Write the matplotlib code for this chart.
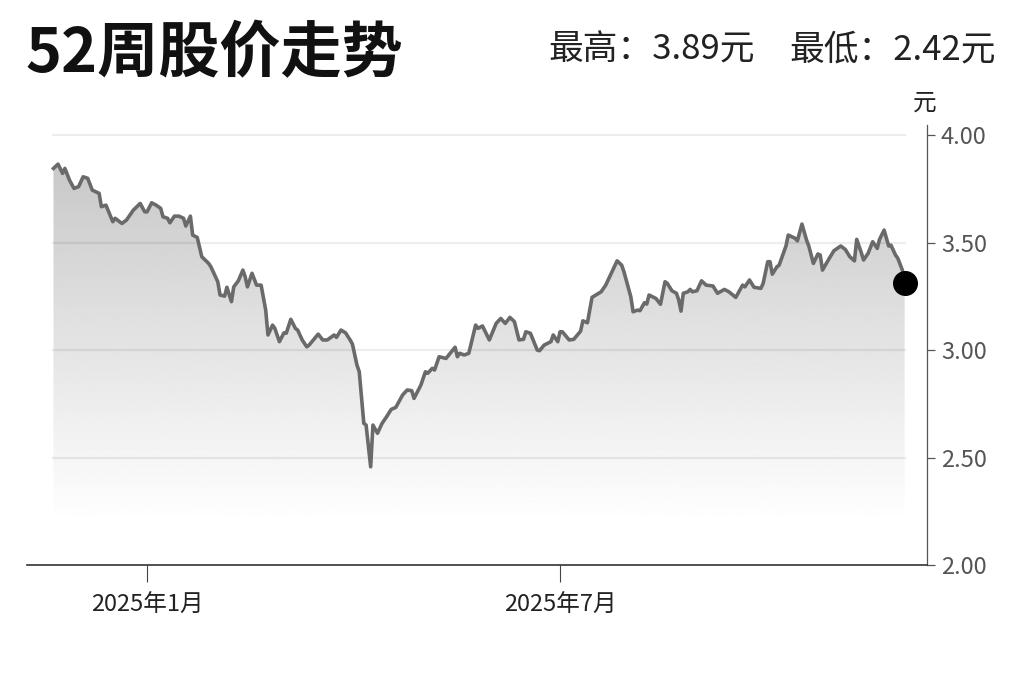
import numpy as np
import pandas as pd
import matplotlib
matplotlib.use("Agg")
import matplotlib.pyplot as plt
import matplotlib.dates as mdates
from matplotlib.patches import Polygon

plt.rcParams['font.family'] = ['Noto Sans CJK SC', 'DejaVu Sans']

# dias desde 2025-01-01 y precio de cierre
day_offset = [-41, -39, -37, -36, -34, -32, -30, -28, -26, -24, -21, -20, -18, -15, -14, -11, -9, -6, -3, -1,
              0, 2, 4, 6, 7, 9, 10, 12, 14, 16, 17, 19, 20, 22, 24, 27, 28, 31, 32, 34,
              35, 37, 38, 40, 42, 43, 44, 46, 48, 50, 52, 53, 55, 56, 58, 60, 61, 63, 65, 66,
              68, 70, 71, 75, 77, 79, 82, 83, 85, 87, 89, 90, 92, 93, 95, 96, 98, 99, 101, 103,
              105, 107, 109, 112, 114, 116, 117, 119, 120, 122, 123, 125, 126, 128, 131, 135, 136, 137, 139, 141,
              144, 145, 147, 150, 153, 155, 157, 159, 161, 163, 165, 166, 168, 171, 172, 174, 177, 178, 180, 181,
              182, 185, 187, 190, 191, 193, 195, 199, 201, 206, 208, 209, 212, 213, 215, 216, 218, 219, 220, 223,
              225, 227, 228, 230, 232, 233, 234, 235, 237, 238, 239, 241, 243, 245, 248, 250, 253, 255, 258, 261,
              262, 264, 266, 269, 270, 272, 273, 274, 276, 277, 280, 281, 284, 285, 287, 289, 290, 292, 294, 295,
              296, 299, 301, 304, 306, 308, 310, 311, 313, 314, 316, 318, 320, 321, 323, 325, 326, 328, 329, 331,
              332]
price = [3.845, 3.865, 3.822, 3.845, 3.791, 3.752, 3.760, 3.806, 3.799, 3.744, 3.729, 3.667, 3.674, 3.597, 3.613, 3.589, 3.605, 3.651, 3.682, 3.643,
         3.643, 3.685, 3.674, 3.659, 3.620, 3.613, 3.592, 3.623, 3.623, 3.613, 3.577, 3.623, 3.535, 3.524, 3.434, 3.403, 3.387, 3.318, 3.256, 3.251,
         3.292, 3.225, 3.294, 3.322, 3.372, 3.341, 3.294, 3.357, 3.302, 3.302, 3.186, 3.070, 3.116, 3.101, 3.039, 3.080, 3.078, 3.143, 3.101, 3.093,
         3.047, 3.015, 3.023, 3.074, 3.047, 3.047, 3.070, 3.059, 3.093, 3.080, 3.047, 3.028, 2.930, 2.899, 2.659, 2.651, 2.457, 2.651, 2.613, 2.659,
         2.690, 2.724, 2.733, 2.791, 2.814, 2.811, 2.775, 2.817, 2.837, 2.899, 2.892, 2.915, 2.907, 2.969, 2.961, 3.013, 2.969, 2.985, 2.977, 2.985,
         3.116, 3.101, 3.112, 3.047, 3.124, 3.147, 3.124, 3.152, 3.132, 3.047, 3.050, 3.085, 3.078, 3.000, 2.997, 3.023, 3.039, 3.070, 3.039, 3.085,
         3.085, 3.047, 3.050, 3.088, 3.136, 3.127, 3.245, 3.271, 3.302, 3.415, 3.395, 3.364, 3.248, 3.178, 3.186, 3.183, 3.220, 3.214, 3.256, 3.240,
         3.213, 3.318, 3.310, 3.276, 3.264, 3.233, 3.181, 3.264, 3.271, 3.282, 3.271, 3.276, 3.322, 3.302, 3.298, 3.264, 3.282, 3.271, 3.245, 3.302,
         3.294, 3.326, 3.292, 3.287, 3.310, 3.411, 3.411, 3.353, 3.387, 3.395, 3.484, 3.535, 3.520, 3.508, 3.586, 3.512, 3.484, 3.403, 3.447, 3.442,
         3.372, 3.427, 3.462, 3.484, 3.468, 3.434, 3.415, 3.515, 3.453, 3.419, 3.450, 3.504, 3.473, 3.515, 3.558, 3.484, 3.488, 3.442, 3.427, 3.372,
         3.312]

y_ticks = [2.0, 2.5, 3.0, 3.5, 4.0]
x_tick_dates = ["2025-01-01", "2025-07-01"]
x_tick_labels = ["2025年1月", "2025年7月"]
titulo = "52周股价走势"
txt_max = "最高：3.89元"
txt_min = "最低：2.42元"

fechas = pd.Timestamp("2025-01-01") + pd.to_timedelta(day_offset, unit="D")
x = mdates.date2num(fechas.to_pydatetime())
y = np.array(price)

fig = plt.figure(figsize=(10.23, 6.82), dpi=100)
ax = fig.add_axes([27/1023, 117/682, 900/1023, 440/682])

x0 = mdates.date2num(pd.Timestamp("2025-01-01")) - 52.6
x1 = mdates.date2num(pd.Timestamp("2025-01-01")) + 341.8

# Relleno degradado bajo la curva (gris arriba, blanco hacia 2.2)
niveles = np.linspace(2.0, 3.9, 300)
grad = np.clip(0.78 + (3.9 - niveles) / 1.7 * 0.22, 0, 1).reshape(-1, 1)
img = ax.imshow(grad, cmap="gray", vmin=0, vmax=1, aspect="auto",
                extent=[x[0], x[-1], 2.0, 3.9], origin="lower", zorder=1)
verts = np.column_stack([np.r_[x, x[-1], x[0]], np.r_[y, 2.0, 2.0]])
clip = Polygon(verts, closed=True, facecolor="none", edgecolor="none", transform=ax.transData)
ax.add_patch(clip)
img.set_clip_path(clip)
ax.set_xlim(x0, x1)
ax.set_ylim(2.0, 4.047)

# Lineas de rejilla
for yt in y_ticks[1:]:
    ax.plot([x[0], x[-1]], [yt, yt], color="black", alpha=0.07, lw=1.6, zorder=2)

ax.plot(x, y, color="#6a6a6a", lw=2.6, zorder=3, solid_joinstyle="round")
ax.plot(x[-1], y[-1], "o", color="black", ms=17, zorder=4)

for s in ["top", "left"]:
    ax.spines[s].set_visible(False)
ax.spines["bottom"].set_color("#333333")
ax.spines["bottom"].set_linewidth(1.2)
ax.spines["right"].set_color("#555555")
ax.spines["right"].set_linewidth(0.9)

ax.yaxis.tick_right()
ax.set_yticks(y_ticks)
ax.set_yticklabels([f"{v:.2f}" for v in y_ticks])
ax.tick_params(axis="y", direction="out", length=6, width=0.9, color="#555555",
               labelcolor="#555555", labelsize=17, pad=4)

ax.set_xticks(mdates.date2num(pd.to_datetime(x_tick_dates).to_pydatetime()))
ax.set_xticklabels(x_tick_labels)
ax.tick_params(axis="x", direction="out", length=12, width=0.8, color="#444444",
               labelcolor="#222222", labelsize=17, pad=9)

fig.text(25/1023, 1 - 54/682, titulo, fontsize=44, fontweight="bold", color="#111111",
         ha="left", va="center")
fig.text(755/1023, 1 - 50/682, txt_max, fontsize=25, color="#222222", ha="right", va="center")
fig.text(996/1023, 1 - 50/682, txt_min, fontsize=25, color="#222222", ha="right", va="center")
fig.text(925/1023, 1 - 103/682, "元", fontsize=17, color="#222222", ha="center", va="center")

fig.savefig("out.png", dpi=100)
